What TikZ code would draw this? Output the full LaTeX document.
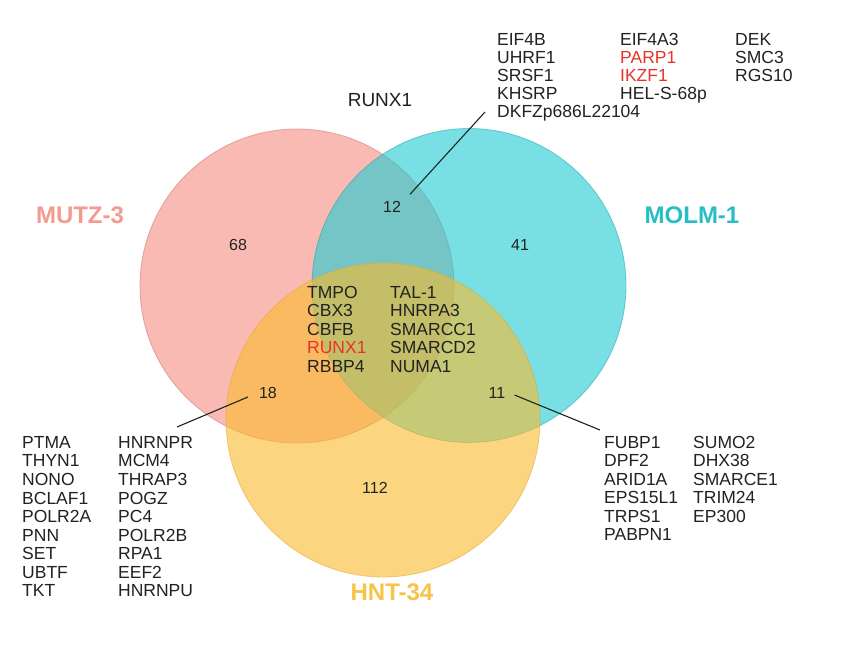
\documentclass[tikz,border=0pt]{standalone}
\usepackage{fontspec}
\setmainfont{Liberation Sans}
\definecolor{cpink}{RGB}{246,140,130}
\definecolor{ccyan}{RGB}{30,204,210}
\definecolor{cyell}{RGB}{250,186,44}
\definecolor{lpink}{RGB}{244,155,145}
\definecolor{lcyan}{RGB}{40,190,198}
\definecolor{lyell}{RGB}{247,195,74}
\definecolor{gred}{RGB}{232,50,42}
\definecolor{ink}{RGB}{34,34,34}
\begin{document}
\begin{tikzpicture}[x=1pt,y=-1pt,
  setfill/.style={fill opacity=0.6,draw opacity=0.5,line width=0.8pt},
  gene/.style={anchor=base west,inner sep=0pt,text=ink,font=\fontsize{17.5}{18}\selectfont},
  num/.style={inner sep=1pt,text=ink,font=\fontsize{16}{16}\selectfont},
  setlabel/.style={inner sep=0pt,font=\fontsize{24}{24}\selectfont\bfseries},
  leader/.style={line width=1.1pt,draw=ink}]
\useasboundingbox (0,0) rectangle (844,668);
\fill[white] (0,0) rectangle (844,668);
% sets
\draw[setfill,fill=cpink,draw=cpink!80!black] (297,286) circle (157);
\draw[setfill,fill=ccyan,draw=ccyan!80!black] (469,285.5) circle (157);
\draw[setfill,fill=cyell,draw=cyell!90!black] (383,420) circle (157);
% set labels
\node[setlabel,text=lpink] (lmutz) at (80,215) {MUTZ-3};
\node[setlabel,text=lcyan] (lmolm) at (692,215) {MOLM-1};
\node[setlabel,text=lyell] (lhnt) at (392,592) {HNT-34};
\node[inner sep=0pt,text=ink,font=\fontsize{19}{19}\selectfont] (lrunx) at (380,100) {RUNX1};
% counts
\node[num] (n68) at (238,245) {68};
\node[num] (n12) at (392,207) {12};
\node[num] (n41) at (520,245) {41};
\node[num] (n18) at (268,393) {18};
\node[num] (n11) at (497,393) {11};
\node[num] (n112) at (375,488) {112};
% top list
\foreach \g [count=\i] in {EIF4B,UHRF1,SRSF1,KHSRP,DKFZp686L22104}
  \node[gene] (ta\i) at (497,45.5+18*\i-18) {\g};
\node[gene] (tb1) at (620,45.5) {EIF4A3};
\node[gene,text=gred] (tb2) at (620,63.5) {PARP1};
\node[gene,text=gred] (tb3) at (620,81.5) {IKZF1};
\node[gene] (tb4) at (620,99.5) {HEL-S-68p};
\foreach \g [count=\i] in {DEK,SMC3,RGS10}
  \node[gene] (tc\i) at (735,45.5+18*\i-18) {\g};
% centre list
\node[gene] (ca1) at (307,298.5) {TMPO};
\node[gene] (ca2) at (307,317) {CBX3};
\node[gene] (ca3) at (307,335.5) {CBFB};
\node[gene,text=gred] (ca4) at (307,354) {RUNX1};
\node[gene] (ca5) at (307,372.5) {RBBP4};
\foreach \g [count=\i] in {TAL-1,HNRPA3,SMARCC1,SMARCD2,NUMA1}
  \node[gene] (cb\i) at (390,298.5+18.5*\i-18.5) {\g};
% left list
\foreach \g [count=\i] in {PTMA,THYN1,NONO,BCLAF1,POLR2A,PNN,SET,UBTF,TKT}
  \node[gene] (la\i) at (22,448.5+18.5*\i-18.5) {\g};
\foreach \g [count=\i] in {HNRNPR,MCM4,THRAP3,POGZ,PC4,POLR2B,RPA1,EEF2,HNRNPU}
  \node[gene] (lb\i) at (118,448.5+18.5*\i-18.5) {\g};
% right list
\foreach \g [count=\i] in {FUBP1,DPF2,ARID1A,EPS15L1,TRPS1,PABPN1}
  \node[gene] (ra\i) at (604,448.5+18.4*\i-18.4) {\g};
\foreach \g [count=\i] in {SUMO2,DHX38,SMARCE1,TRIM24,EP300}
  \node[gene] (rb\i) at (693,448.5+18.4*\i-18.4) {\g};
% leader lines
\coordinate (e12) at (485,112);
\coordinate (e18) at (177,427);
\coordinate (e11) at (600,430);
\draw[leader] ([shift={(8,-6)}]n12.north east) -- (e12);
\draw[leader] ([shift={(-10,4)}]n18.west) -- (e18);
\draw[leader] ([shift={(8,2)}]n11.east) -- (e11);
\end{tikzpicture}
\end{document}
